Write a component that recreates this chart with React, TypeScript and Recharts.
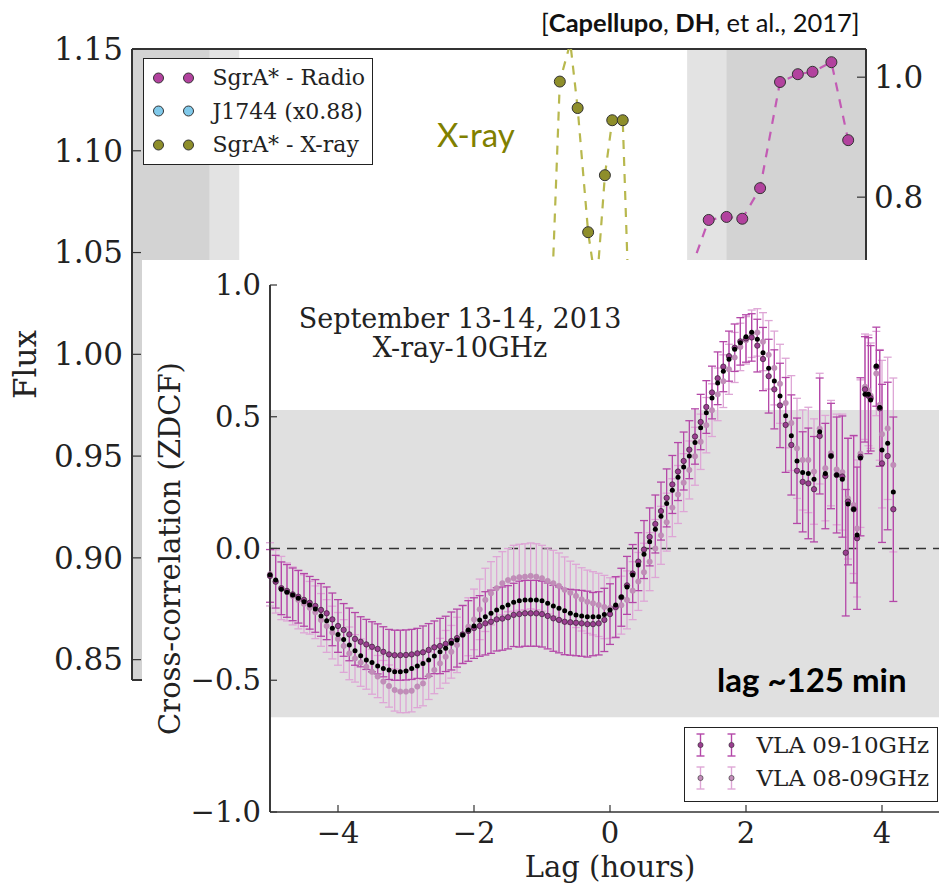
import React from 'react';
import {
  ComposedChart,
  Line,
  Scatter,
  XAxis,
  YAxis,
  ReferenceArea,
  ReferenceLine,
  ErrorBar,
  Legend
} from 'recharts';

// ---------- fonts & colours ----------
const SERIF = "'DejaVu Serif', serif";
const SANS = "Lato, 'Open Sans', sans-serif";
const INK = '#222';
const SPINE = '#333';

const RADIO = '#b2429e';
const RADIO_LINE = '#c35bb4';
const J1744 = '#80c9ea';
const XRAY = '#8e8e2a';
const XRAY_LINE = '#b8b84e';

const DARK_DOT = '#9a3f90';
const DARK_BAR = '#b447a8';
const LIGHT_DOT = '#c28cb9';
const LIGHT_BAR = '#dea6d6';

// ---------- background light curve ----------
const timeTicks = [1, 2, 3, 4, 5, 6, 7];
const fluxTicks = [0.85, 0.9, 0.95, 1.0, 1.05, 1.1, 1.15];
const normTicks = [0.8, 1.0];

const radioTime = [5.53, 5.7, 5.87, 6.02, 6.19, 6.38, 6.55, 6.69, 6.87, 7.03];
const radioFlux = [0.68, 0.762, 0.767, 0.764, 0.815, 0.992, 1.005, 1.009, 1.025, 0.895];

const xrayTime = [4.2, 4.28, 4.38, 4.45, 4.55, 4.63, 4.71, 4.78, 4.88, 4.96];
const xrayFlux = [1.023, 1.134, 1.153, 1.121, 1.06, 1.032, 1.088, 1.115, 1.115, 0.991];

const shadedBands = [
  { from: 0.2, to: 0.942, fill: '#d3d3d3' },
  { from: 0.942, to: 1.223, fill: '#e3e3e3' },
  { from: 5.494, to: 5.867, fill: '#e3e3e3' },
  { from: 5.867, to: 7.2, fill: '#d3d3d3' }
];

const fluxLegend = [
  { label: 'SgrA* - Radio', color: RADIO },
  { label: 'J1744 (x0.88)', color: J1744 },
  { label: 'SgrA* - X-ray', color: XRAY }
];

// ---------- ZDCF inset ----------
const lagTicks = [-4, -2, 0, 2, 4];
const ccTicks = [-1, -0.5, 0, 0.5, 1];

// lag in minutes
const lagMin = [
  -300, -295, -290, -285, -280, -275, -270, -265, -260, -255, -250, -245,
  -240, -235, -230, -225, -220, -215, -210, -205, -200, -195, -190, -185,
  -180, -175, -170, -165, -160, -155, -150, -145, -140, -135, -130, -125,
  -120, -115, -110, -105, -100, -95, -90, -85, -80, -75, -70, -65,
  -60, -55, -50, -45, -40, -35, -30, -25, -20, -15, -10, -5,
  0, 5, 10, 15, 20, 25, 30, 35, 40, 45, 50, 55,
  60, 65, 70, 75, 80, 85, 90, 95, 100, 105, 110, 115,
  120, 125, 130, 135, 140, 145, 150, 155, 160, 165, 170, 175,
  180, 185, 190, 195, 200, 205,
  208, 210, 215, 218, 221, 225, 228, 230, 235, 238, 240, 245, 250
];

// black points (no error bars)
const ccBlack = [
  -0.100, -0.120, -0.155, -0.166, -0.176, -0.189, -0.202, -0.214, -0.230, -0.256, -0.274, -0.303,
  -0.326, -0.345, -0.366, -0.388, -0.407, -0.423, -0.433, -0.446, -0.455, -0.461, -0.468, -0.468,
  -0.465, -0.455, -0.446, -0.436, -0.423, -0.408, -0.392, -0.379, -0.360, -0.347, -0.328, -0.309,
  -0.294, -0.271, -0.259, -0.246, -0.233, -0.223, -0.214, -0.204, -0.198, -0.195, -0.195, -0.195,
  -0.198, -0.208, -0.218, -0.227, -0.236, -0.246, -0.252, -0.256, -0.259, -0.259, -0.259, -0.250,
  -0.233, -0.214, -0.184, -0.146, -0.101, -0.063, -0.022, 0.026, 0.073, 0.122, 0.171, 0.221,
  0.270, 0.309, 0.351, 0.402, 0.458, 0.515, 0.571, 0.628, 0.673, 0.718, 0.756, 0.781,
  0.804, 0.821, 0.794, 0.743, 0.684, 0.636, 0.579, 0.504, 0.428, 0.332, 0.288, 0.285,
  0.263, 0.443, 0.285, 0.351, 0.279, 0.263,
  null, 0.169, 0.149, 0.051, 0.343, 0.585, 0.585, 0.564, 0.693, 0.535, 0.374, 0.399, 0.214
];

// VLA 09-10GHz
const cc0910 = [
  -0.104, -0.126, -0.151, -0.161, -0.174, -0.183, -0.195, -0.206, -0.218, -0.233, -0.246, -0.269,
  -0.294, -0.309, -0.326, -0.343, -0.354, -0.364, -0.373, -0.381, -0.392, -0.402, -0.405, -0.405,
  -0.404, -0.402, -0.398, -0.394, -0.385, -0.375, -0.370, -0.362, -0.351, -0.340, -0.326, -0.313,
  -0.302, -0.294, -0.284, -0.278, -0.269, -0.266, -0.261, -0.252, -0.249, -0.246, -0.246, -0.246,
  -0.249, -0.256, -0.265, -0.271, -0.278, -0.280, -0.282, -0.284, -0.287, -0.287, -0.284, -0.271,
  -0.249, -0.222, -0.185, -0.140, -0.095, -0.050, -0.004, 0.044, 0.093, 0.142, 0.192, 0.243,
  0.292, 0.332, 0.375, 0.425, 0.480, 0.537, 0.592, 0.646, 0.690, 0.730, 0.762, 0.786,
  0.797, 0.801, 0.770, 0.719, 0.654, 0.604, 0.543, 0.469, 0.393, 0.295, 0.253, 0.247,
  0.225, 0.427, 0.275, 0.351, 0.279, 0.273,
  -0.016, 0.178, 0.149, 0.039, 0.348, 0.604, 0.580, 0.570, 0.690, 0.532, 0.323, 0.351, 0.149
];
const err0910 = [
  0.10, 0.10, 0.10, 0.10, 0.10, 0.10, 0.10, 0.10, 0.10, 0.10, 0.10, 0.10,
  0.10, 0.10, 0.10, 0.10, 0.095, 0.095, 0.095, 0.095, 0.095, 0.095, 0.095, 0.095,
  0.095, 0.095, 0.095, 0.10, 0.10, 0.10, 0.105, 0.105, 0.11, 0.11, 0.11, 0.115,
  0.115, 0.115, 0.12, 0.12, 0.12, 0.12, 0.12, 0.12, 0.125, 0.125, 0.125, 0.125,
  0.125, 0.125, 0.125, 0.125, 0.125, 0.125, 0.125, 0.125, 0.125, 0.12, 0.12, 0.12,
  0.115, 0.115, 0.11, 0.11, 0.11, 0.11, 0.11, 0.11, 0.11, 0.11, 0.11, 0.11,
  0.11, 0.11, 0.11, 0.105, 0.105, 0.10, 0.10, 0.10, 0.095, 0.095, 0.09, 0.09,
  0.09, 0.09, 0.10, 0.12, 0.14, 0.15, 0.16, 0.18, 0.19, 0.20, 0.19, 0.21,
  0.20, 0.22, 0.20, 0.20, 0.22, 0.23,
  0.24, 0.24, 0.28, 0.27, 0.30, 0.20, 0.22, 0.20, 0.15, 0.22, 0.30, 0.28, 0.35
];

// VLA 08-09GHz
const cc0809 = [
  -0.098, -0.125, -0.150, -0.165, -0.180, -0.195, -0.210, -0.225, -0.242, -0.271, -0.294, -0.319,
  -0.343, -0.370, -0.398, -0.417, -0.433, -0.449, -0.468, -0.486, -0.505, -0.522, -0.537, -0.543,
  -0.543, -0.540, -0.524, -0.512, -0.483, -0.461, -0.436, -0.411, -0.392, -0.366, -0.328, -0.297,
  -0.269, -0.231, -0.195, -0.170, -0.151, -0.132, -0.120, -0.113, -0.109, -0.107, -0.104, -0.107,
  -0.113, -0.123, -0.132, -0.142, -0.157, -0.168, -0.180, -0.193, -0.202, -0.208, -0.214, -0.222,
  -0.226, -0.225, -0.215, -0.195, -0.160, -0.125, -0.090, -0.050, 0.000, 0.050, 0.100, 0.155,
  0.205, 0.250, 0.298, 0.350, 0.405, 0.468, 0.525, 0.585, 0.635, 0.680, 0.725, 0.765,
  0.790, 0.815, 0.820, 0.785, 0.735, 0.685, 0.625, 0.552, 0.476, 0.380, 0.336, 0.336,
  0.292, 0.455, 0.305, 0.362, 0.300, 0.290,
  null, 0.190, 0.165, 0.076, 0.360, 0.614, 0.600, 0.580, 0.664, 0.545, 0.434, 0.456, 0.317
];
const err0809 = [
  0.12, 0.12, 0.12, 0.11, 0.11, 0.11, 0.11, 0.10, 0.10, 0.10, 0.10, 0.10,
  0.10, 0.10, 0.10, 0.09, 0.09, 0.085, 0.085, 0.08, 0.08, 0.08, 0.08, 0.08,
  0.08, 0.08, 0.08, 0.085, 0.09, 0.09, 0.095, 0.10, 0.10, 0.105, 0.11, 0.11,
  0.115, 0.115, 0.12, 0.12, 0.12, 0.12, 0.12, 0.125, 0.125, 0.125, 0.125, 0.125,
  0.125, 0.125, 0.125, 0.125, 0.125, 0.12, 0.12, 0.12, 0.12, 0.12, 0.12, 0.12,
  0.115, 0.115, 0.11, 0.11, 0.11, 0.11, 0.11, 0.11, 0.11, 0.11, 0.11, 0.11,
  0.11, 0.11, 0.11, 0.11, 0.105, 0.105, 0.10, 0.10, 0.10, 0.095, 0.095, 0.09,
  0.09, 0.09, 0.09, 0.11, 0.13, 0.14, 0.15, 0.17, 0.18, 0.19, 0.19, 0.20,
  0.20, 0.21, 0.20, 0.20, 0.21, 0.22,
  0, 0.23, 0.26, 0.26, 0.28, 0.20, 0.21, 0.20, 0.16, 0.21, 0.28, 0.27, 0.33
];

const zdcfLegend = [
  { label: 'VLA 09-10GHz', dot: DARK_DOT, bar: DARK_BAR },
  { label: 'VLA 08-09GHz', dot: LIGHT_DOT, bar: LIGHT_BAR }
];

// ---------- helpers ----------
const fmt = (v: number, digits: number) => v.toFixed(digits).replace('-', '\u2212');

const series = (values: (number | null)[], errs?: number[]) =>
  lagMin.flatMap((m, i) =>
    values[i] == null ? [] : [{ lag: m / 60, v: values[i] as number, err: errs ? errs[i] : 0 }]
  );

const radioData = radioTime.map((t, i) => ({ t, flux: radioFlux[i] }));
const xrayData = xrayTime.map((t, i) => ({ t, flux: xrayFlux[i] }));
const blackData = series(ccBlack);
const data0910 = series(cc0910, err0910);
const data0809 = series(cc0809, err0809);

// ticks drawn inward, matplotlib style
const LeftTick = ({ x, y, payload, len, size, digits }: any) => (
  <g>
    <line x1={x} x2={x + len} y1={y} y2={y} stroke={SPINE} strokeWidth={1.2} />
    <text x={x - 9} y={y} dy={size * 0.35} textAnchor="end" fontFamily={SERIF} fontSize={size} fill={INK}>
      {fmt(payload.value, digits)}
    </text>
  </g>
);

const RightTick = ({ x, y, payload, len, size, digits }: any) => (
  <g>
    <line x1={x} x2={x - len} y1={y} y2={y} stroke={SPINE} strokeWidth={1.2} />
    <text x={x + 8} y={y} dy={size * 0.36} textAnchor="start" fontFamily={SERIF} fontSize={size} fill={INK}>
      {fmt(payload.value, digits)}
    </text>
  </g>
);

const TopTick = ({ x, y, len }: any) => (
  <line x1={x} x2={x} y1={y} y2={y + len} stroke={SPINE} strokeWidth={1.2} />
);

const BottomTick = ({ x, y, payload, len, size }: any) => (
  <g>
    <line x1={x} x2={x} y1={y} y2={y - len} stroke={SPINE} strokeWidth={1.2} />
    <text x={x} y={y + 31} textAnchor="middle" fontFamily={SERIF} fontSize={size} fill={INK}>
      {fmt(payload.value, 0)}
    </text>
  </g>
);

const dotShape = (r: number, fill: string, stroke: string, sw: number) => (p: any) =>
  <circle cx={p.cx} cy={p.cy} r={r} fill={fill} stroke={stroke} strokeWidth={sw} />;

// ---------- legends ----------
const FluxLegend = () => (
  <div
    style={{
      width: 230, height: 107, boxSizing: 'border-box', border: `1.5px solid ${INK}`,
      background: '#fff', fontFamily: SERIF, fontSize: 22, color: INK, paddingTop: 2
    }}
  >
    {fluxLegend.map((item) => (
      <div key={item.label} style={{ display: 'flex', alignItems: 'center', height: 33.5 }}>
        <svg width={68.5} height={20} style={{ flex: 'none' }}>
          <circle cx={14.5} cy={10} r={5} fill={item.color} stroke={SPINE} strokeWidth={1} />
          <circle cx={44.5} cy={10} r={5} fill={item.color} stroke={SPINE} strokeWidth={1} />
        </svg>
        <span style={{ whiteSpace: 'nowrap' }}>{item.label}</span>
      </div>
    ))}
  </div>
);

const ZdcfLegend = () => (
  <div
    style={{
      width: 254, height: 75, boxSizing: 'border-box', border: `1.5px solid ${INK}`,
      background: '#fff', fontFamily: SERIF, fontSize: 23, color: INK
    }}
  >
    {zdcfLegend.map((item) => (
      <div key={item.label} style={{ display: 'flex', alignItems: 'center', height: 33 }}>
        <svg width={71.5} height={30} style={{ flex: 'none' }}>
          {[15.5, 46.5].map((cx) => (
            <g key={cx} stroke={item.bar} strokeWidth={1.4}>
              <line x1={cx} x2={cx} y1={4} y2={26} />
              <line x1={cx - 4} x2={cx + 4} y1={4} y2={4} />
              <line x1={cx - 4} x2={cx + 4} y1={26} y2={26} />
              <circle cx={cx} cy={15} r={2.6} fill={item.dot} stroke={SPINE} strokeWidth={0.6} />
            </g>
          ))}
        </svg>
        <span style={{ whiteSpace: 'nowrap' }}>{item.label}</span>
      </div>
    ))}
  </div>
);

// ---------- charts ----------
const FluxChart = () => (
  <ComposedChart width={939} height={885} margin={{ top: 49, right: 0, bottom: 205, left: 0 }}>
    <XAxis
      xAxisId="top" orientation="top" type="number" dataKey="t" domain={[0.2, 7.2]}
      ticks={timeTicks} interval={0} height={0} tickSize={0} tickMargin={0}
      axisLine={{ stroke: SPINE, strokeWidth: 2 }} tickLine={false} tick={<TopTick len={9} />}
    />
    <XAxis
      xAxisId="bottom" orientation="bottom" type="number" dataKey="t" domain={[0.2, 7.2]}
      height={0} tick={false} tickLine={false} axisLine={{ stroke: SPINE, strokeWidth: 2 }}
    />
    <YAxis
      yAxisId="flux" orientation="left" type="number" width={132} domain={[0.84, 1.15]}
      allowDataOverflow ticks={fluxTicks} interval={0} tickSize={0} tickMargin={0}
      axisLine={{ stroke: SPINE, strokeWidth: 2 }} tickLine={false}
      tick={<LeftTick len={9} size={31} digits={2} />}
      label={{
        value: 'Flux', angle: -90, position: 'insideLeft', offset: 25,
        style: { textAnchor: 'middle', fontFamily: SERIF, fontSize: 31, fill: INK }
      }}
    />
    <YAxis
      yAxisId="norm" orientation="right" type="number" width={73} domain={[-0.005, 1.047]}
      ticks={normTicks} interval={0} tickSize={0} tickMargin={0}
      axisLine={{ stroke: SPINE, strokeWidth: 2 }} tickLine={false}
      tick={<RightTick len={9} size={31} digits={1} />}
    />
    {shadedBands.map((b) => (
      <ReferenceArea
        key={b.from} xAxisId="top" yAxisId="flux" x1={b.from} x2={b.to}
        fill={b.fill} fillOpacity={1} stroke="none"
      />
    ))}
    {/* box spines above the shading */}
    <ReferenceLine xAxisId="top" yAxisId="flux" y={1.15} stroke={SPINE} strokeWidth={2} />
    <ReferenceLine xAxisId="top" yAxisId="flux" x={0.2} stroke={SPINE} strokeWidth={2} />
    <ReferenceLine xAxisId="top" yAxisId="flux" x={7.2} stroke={SPINE} strokeWidth={2} />
    <ReferenceLine xAxisId="top" yAxisId="flux" y={0.84} stroke={SPINE} strokeWidth={2} />
    <Line
      data={xrayData} xAxisId="top" yAxisId="flux" dataKey="flux" type="linear"
      stroke={XRAY_LINE} strokeWidth={2.2} strokeDasharray="9 8"
      dot={{ r: 5.5, fill: XRAY, stroke: SPINE, strokeWidth: 1, strokeDasharray: '' }}
      isAnimationActive={false} legendType="none"
    />
    <Line
      data={radioData} xAxisId="top" yAxisId="norm" dataKey="flux" type="linear"
      stroke={RADIO_LINE} strokeWidth={2.2} strokeDasharray="9 8"
      dot={{ r: 5.5, fill: RADIO, stroke: SPINE, strokeWidth: 1, strokeDasharray: '' }}
      isAnimationActive={false} legendType="none"
    />
    <Legend
      content={<FluxLegend />} layout="vertical" align="center" verticalAlign="middle"
      wrapperStyle={{ left: 143, top: 58, width: 230, height: 107 }}
    />
  </ComposedChart>
);

const ZdcfChart = () => (
  <ComposedChart width={830} height={625} margin={{ top: 25, right: 22, bottom: 0, left: 0 }}>
    <XAxis
      xAxisId="lag" orientation="bottom" type="number" dataKey="lag" domain={[-5, 5]}
      ticks={lagTicks} interval={0} height={73} tickSize={0} tickMargin={0}
      axisLine={{ stroke: SPINE, strokeWidth: 1.6 }} tickLine={false}
      tick={<BottomTick len={7} size={29} />}
      label={{
        value: 'Lag (hours)', position: 'insideBottom', offset: 8,
        style: { fontFamily: SERIF, fontSize: 29, fill: INK }
      }}
    />
    <XAxis
      xAxisId="lagTop" orientation="top" type="number" dataKey="lag" domain={[-5, 5]}
      ticks={lagTicks} interval={0} height={0} tickSize={0} tickMargin={0}
      axisLine={{ stroke: SPINE, strokeWidth: 1.6 }} tickLine={false} tick={<TopTick len={7} />}
    />
    <YAxis
      yAxisId="cc" type="number" dataKey="v" width={128} domain={[-1, 1]}
      ticks={ccTicks} interval={0} tickSize={0} tickMargin={0}
      axisLine={{ stroke: SPINE, strokeWidth: 1.6 }} tickLine={false}
      tick={<LeftTick len={7} size={29} digits={1} />}
      label={{
        value: 'Cross-correlation (ZDCF)', angle: -90, position: 'insideLeft', offset: 28,
        style: { textAnchor: 'middle', fontFamily: SERIF, fontSize: 29, fill: INK }
      }}
    />
    <ReferenceArea
      xAxisId="lag" yAxisId="cc" y1={-0.64} y2={0.526} fill="#e0e0e0" fillOpacity={1} stroke="none"
    />
    <ReferenceLine xAxisId="lag" yAxisId="cc" x={-5} stroke={SPINE} strokeWidth={1.6} />
    <ReferenceLine
      xAxisId="lag" yAxisId="cc" y={0} stroke={SPINE} strokeWidth={1.6} strokeDasharray="10 7"
    />
    <Scatter
      name="VLA 08-09GHz" data={data0809} xAxisId="lag" yAxisId="cc"
      shape={dotShape(2.7, LIGHT_DOT, '#b98bb2', 0.6)} isAnimationActive={false}
    >
      <ErrorBar dataKey="err" direction="y" width={4} stroke={LIGHT_BAR} strokeWidth={1.3} />
    </Scatter>
    <Scatter
      name="VLA 09-10GHz" data={data0910} xAxisId="lag" yAxisId="cc"
      shape={dotShape(2.7, DARK_DOT, '#3a2036', 0.7)} isAnimationActive={false}
    >
      <ErrorBar dataKey="err" direction="y" width={4} stroke={DARK_BAR} strokeWidth={1.3} />
    </Scatter>
    <Scatter
      name="combined" data={blackData} xAxisId="lag" yAxisId="cc"
      shape={dotShape(2.5, '#000', '#000', 0)} isAnimationActive={false} legendType="none"
    />
    <Legend
      content={<ZdcfLegend />} layout="vertical" align="center" verticalAlign="middle"
      wrapperStyle={{ left: 542, top: 467, width: 254, height: 75 }}
    />
  </ComposedChart>
);

export default function App() {
  return (
    <div
      style={{
        position: 'absolute', left: 0, top: 0, width: 939, height: 885,
        overflow: 'hidden', background: '#fff'
      }}
    >
      <FluxChart />
      <div style={{ position: 'absolute', left: 142, top: 260, width: 830, height: 625, background: '#fff' }}>
        <ZdcfChart />
      </div>
      <svg
        width={939} height={885}
        style={{ position: 'absolute', left: 0, top: 0, pointerEvents: 'none' }}
      >
        <text x={541} y={32} fontFamily={SANS} fontSize={25.5} fill="#111">
          [<tspan fontWeight={700}>Capellupo</tspan>, <tspan fontWeight={700}>DH</tspan>, et al., 2017]
        </text>
        <text x={437} y={147} fontFamily={SANS} fontSize={33} fill="#808000">X-ray</text>
        <text x={460} y={328} textAnchor="middle" fontFamily={SERIF} fontSize={27} fill={INK}>
          September 13-14, 2013
        </text>
        <text x={460} y={357} textAnchor="middle" fontFamily={SERIF} fontSize={27} fill={INK}>
          X-ray-10GHz
        </text>
        <text x={717} y={692} fontFamily={SANS} fontSize={33} fontWeight={700} fill="#000">
          lag ~125 min
        </text>
      </svg>
    </div>
  );
}
